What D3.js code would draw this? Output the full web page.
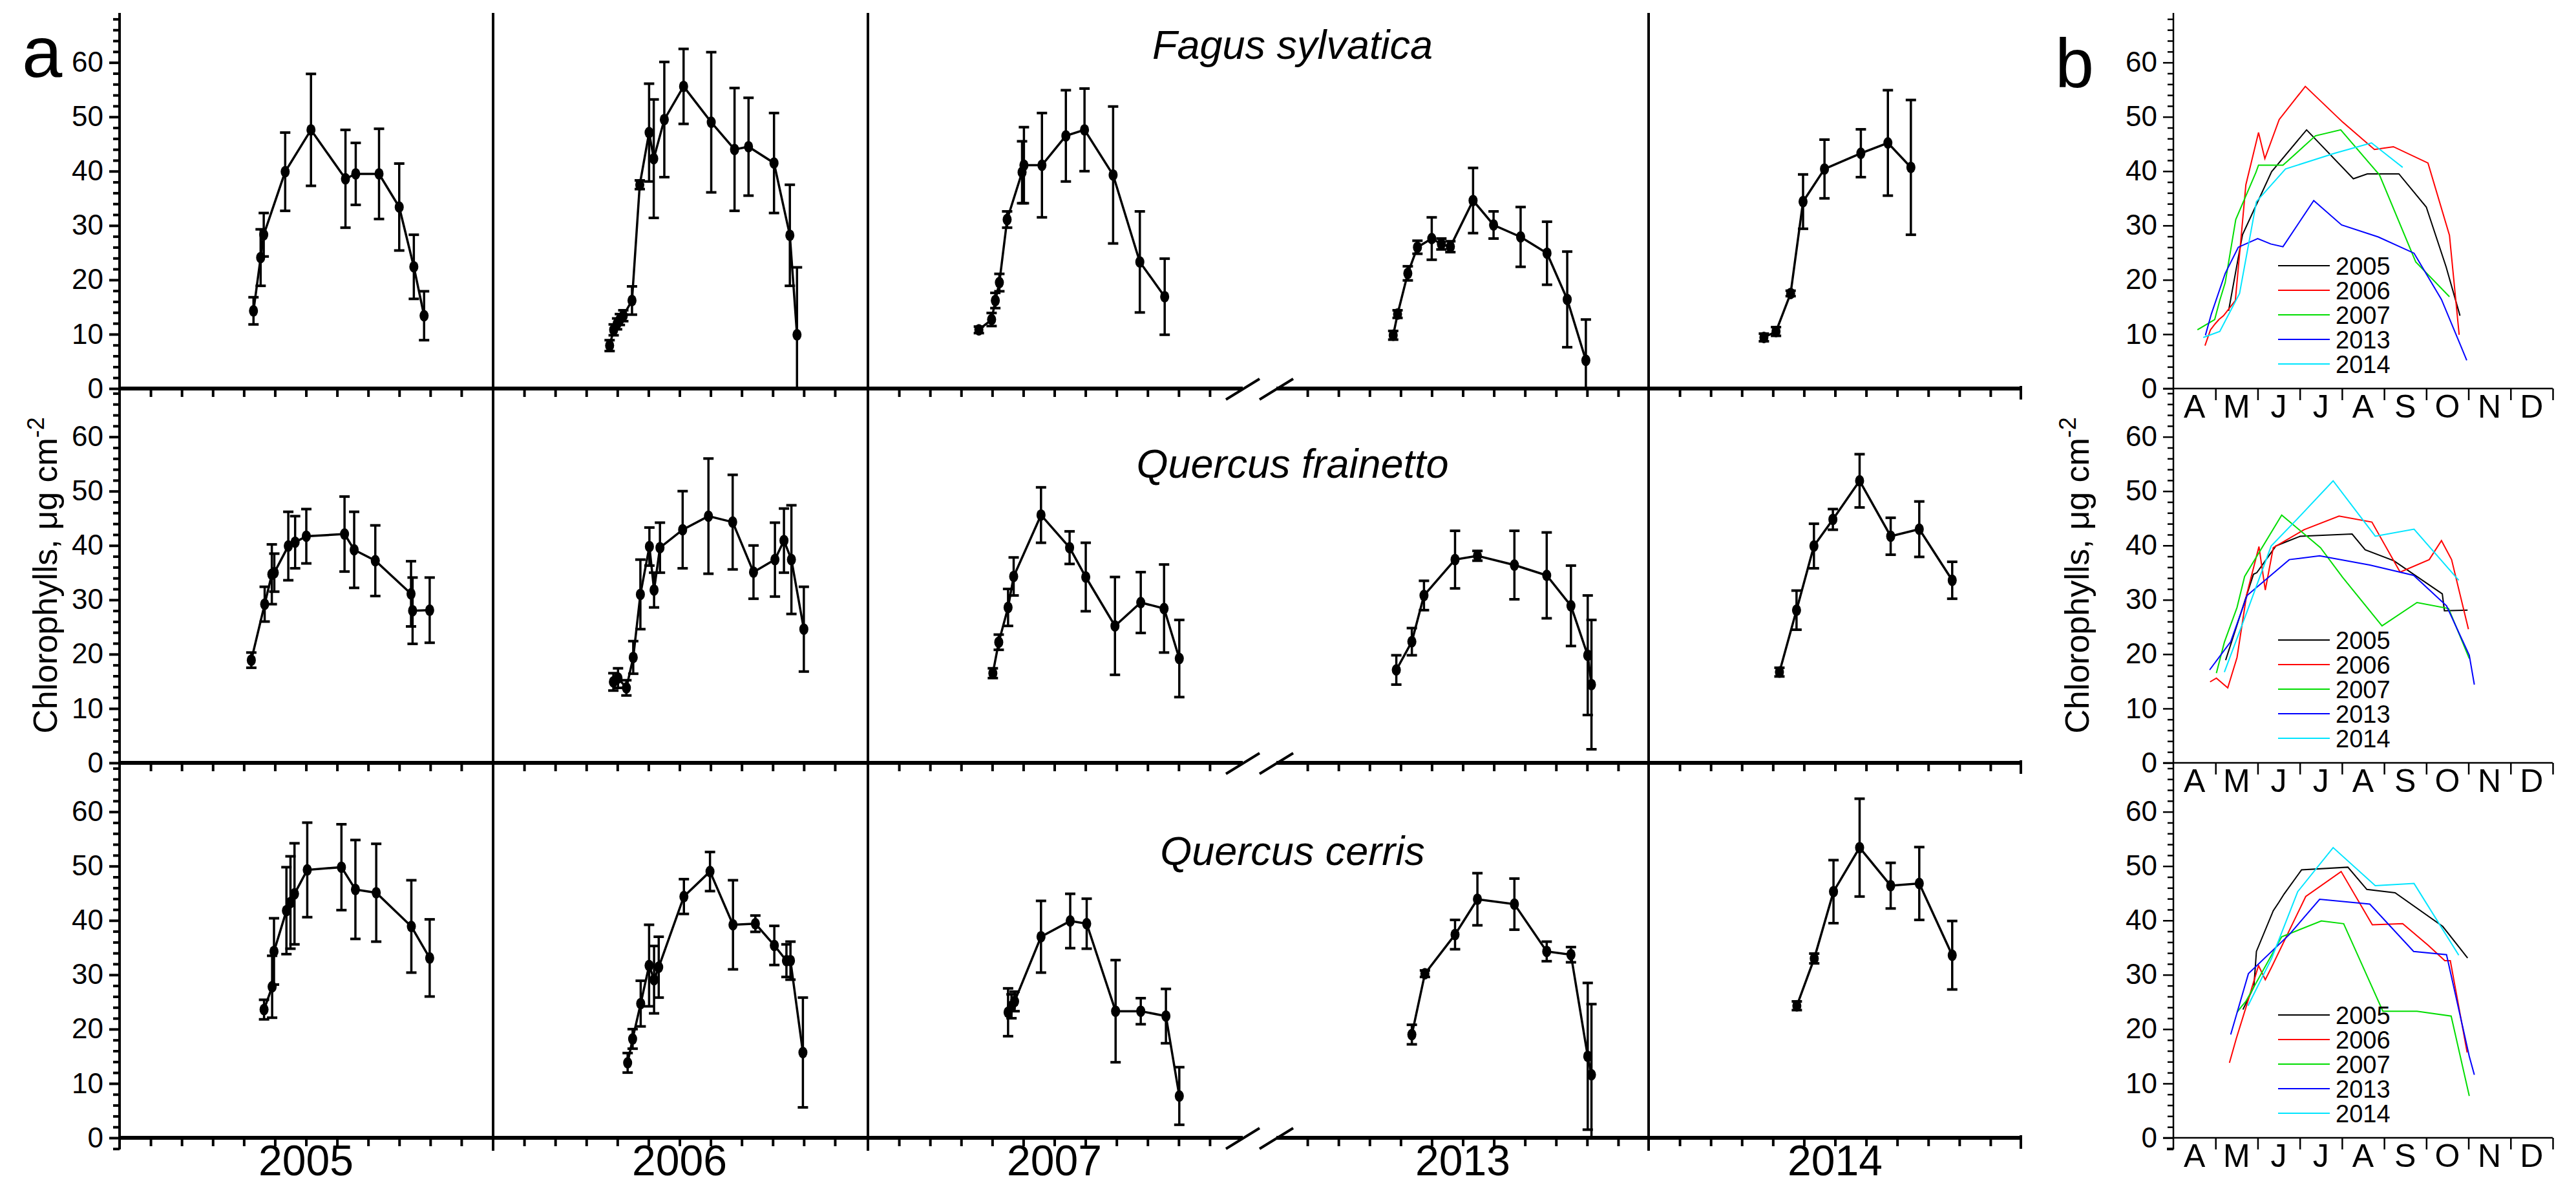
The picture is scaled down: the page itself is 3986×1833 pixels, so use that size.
<!DOCTYPE html>
<html><head><meta charset="utf-8">
<script src="https://cdn.jsdelivr.net/npm/d3@7"></script>
<style>body{margin:0;background:#fff}svg{display:block}text{font-family:"Liberation Sans",Arial,sans-serif}</style>
</head><body>
<script>
// ---- data: [month position (0 = 1 Jan, 12 = 31 Dec), mean, error] ----
const years = ["2005","2006","2007","2013","2014"];
const species = ["Fagus sylvatica","Quercus frainetto","Quercus cerris"];
const months = ["A","M","J","J","A","S","O","N","D"];
const yTicks = [0,10,20,30,40,50,60];
const colors = ["#000000","#ff0000","#00dd00","#0000ff","#00e5ff"];

const fagus2005 = [[4.31,14.3,2.5],[4.54,24.1,5.2],[4.64,28.3,4],[5.33,39.9,7.2],[6.16,47.6,10.3],[7.27,38.6,9],[7.6,39.5,5.7],[8.35,39.5,8.3],[9.0,33.4,8],[9.47,22.4,5.9],[9.8,13.4,4.5]];
const fagus2006 = [[3.75,7.9,1],[3.88,10.8,1],[3.99,11.9,1],[4.08,12.7,1],[4.19,13.4,1],[4.47,16.2,2.6],[4.72,37.5,0.8],[5.02,47.1,9],[5.17,42.3,10.9],[5.51,49.5,10.6],[6.13,55.6,6.9],[7.02,49,12.9],[7.77,44,11.3],[8.22,44.5,9],[9.04,41.5,9.2],[9.55,28.2,9.3],[9.78,9.9,12.4]];
const fagus2007 = [[3.57,10.8,0.6],[3.98,12.7,1.2],[4.1,16.2,1.4],[4.23,19.5,1.6],[4.48,31.1,1.5],[4.96,39.8,5.7],[5.02,41.1,7],[5.6,41.1,9.6],[6.37,46.5,8.4],[6.97,47.6,7.6],[7.89,39.3,12.6],[8.75,23.3,9.3],[9.55,16.9,7]];
const fagus2013 = [[3.76,9.8,0.8],[3.9,13.7,0.7],[4.23,21.2,1.3],[4.54,26,1.2],[5.0,27.6,3.9],[5.31,26.6,1],[5.6,26.1,1],[6.33,34.6,6],[6.99,30.1,2.5],[7.86,27.9,5.5],[8.71,24.9,5.8],[9.36,16.4,8.8],[9.96,5.2,7.5]];
const fagus2014 = [[3.71,9.4,0.7],[4.1,10.5,0.8],[4.57,17.5,0.5],[4.97,34.4,5],[5.66,40.4,5.4],[6.83,43.3,4.4],[7.7,45.2,9.7],[8.44,40.7,12.4]];

const frainetto2005 = [[4.24,18.9,1.4],[4.67,29.2,3.2],[4.9,34.7,5.5],[4.98,35,3.5],[5.43,39.9,6.3],[5.65,40.6,4.8],[6.01,41.7,5],[7.24,42.1,6.9],[7.55,39.2,7],[8.23,37.2,6.5],[9.38,31.1,6],[9.43,28,6.1],[9.98,28.1,6]];
const frainetto2006 = [[3.87,14.9,1.6],[4.02,15.6,1.8],[4.29,13.8,1.4],[4.51,19.4,3],[4.74,31,6.4],[5.03,39.8,3.5],[5.18,31.8,3.2],[5.37,39.6,4.6],[6.1,42.9,7.1],[6.93,45.4,10.6],[7.71,44.3,8.7],[8.38,35.1,4.9],[9.07,37.4,6.8],[9.36,40.9,5.9],[9.6,37.4,10],[10.0,24.6,7.8]];
const frainetto2007 = [[4.02,16.5,0.9],[4.21,22.2,1.4],[4.51,28.6,3.4],[4.69,34.3,3.5],[5.57,45.6,5.1],[6.49,39.6,3],[7.01,34.2,6.3],[7.95,25.2,9],[8.78,29.5,5.6],[9.53,28.4,8.1],[10.02,19.2,7.1]];
const frainetto2013 = [[3.86,17.1,2.7],[4.36,22.3,2.5],[4.75,30.8,2.7],[5.75,37.4,5.3],[6.47,38.1,0.9],[7.66,36.4,6.3],[8.7,34.5,7.9],[9.48,28.9,7.4],[10.02,19.8,11],[10.14,14.4,11.9]];
const frainetto2014 = [[4.21,16.7,0.8],[4.76,28.1,3.6],[5.32,39.9,4.1],[5.93,44.8,1.9],[6.79,51.9,4.9],[7.79,41.7,3.4],[8.71,43,5.1],[9.77,33.6,3.4]];

const cerris2005 = [[4.65,23.6,1.8],[4.91,27.8,5.7],[4.97,34.3,6.1],[5.37,41.8,8],[5.5,43.3,8.5],[5.63,44.9,9.3],[6.04,49.3,8.7],[7.14,49.8,7.9],[7.59,45.7,9.1],[8.26,45.1,9],[9.39,38.9,8.5],[9.98,33.1,7.1]];
const cerris2006 = [[4.33,13.8,1.8],[4.49,18.2,1.8],[4.75,24.7,4.2],[5.02,31.7,7.5],[5.18,29.1,6.2],[5.33,31.4,5.6],[6.14,44.4,3.2],[6.98,49,3.6],[7.72,39.2,8.2],[8.44,39.4,1.5],[9.05,35.4,3.6],[9.44,32.6,3],[9.57,32.6,3.5],[9.97,15.7,10.1]];
const cerris2007 = [[4.51,23.1,4.4],[4.62,24.2,2.2],[4.72,25.1,1.8],[5.57,37,6.6],[6.51,39.9,5],[7.04,39.4,4.6],[7.97,23.3,9.4],[8.78,23.3,2.4],[9.59,22.4,5],[10.02,7.7,5.3]];
const cerris2013 = [[4.36,19,1.8],[4.78,30.2,0.6],[5.75,37.4,2.7],[6.47,43.9,4.8],[7.66,43,4.7],[8.7,34.3,1.8],[9.48,33.7,1.4],[10.02,15,13.5],[10.14,11.6,13]];
const cerris2014 = [[4.77,24.3,0.8],[5.33,33,0.9],[5.95,45.3,5.8],[6.79,53.4,9],[7.79,46.4,4.2],[8.71,46.8,6.7],[9.77,33.6,6.3]];

const rowsData = [
  [fagus2005,fagus2006,fagus2007,fagus2013,fagus2014],
  [frainetto2005,frainetto2006,frainetto2007,frainetto2013,frainetto2014],
  [cerris2005,cerris2006,cerris2007,cerris2013,cerris2014]
];

// ---- layout ----
const W = 3986, H = 1833;
const svg = d3.select("body").append("svg").attr("width", W).attr("height", H);
const axX = 185, yearStarts = [185, 763, 1343, 1975, 2551], yearW = 577;
const zeros = [601, 1180, 1760], rowH = 580;
const bX0 = 3363, bX1 = 3950;
const FONT = '"Liberation Sans",Arial,sans-serif';

const xYear = yearStarts.map(s => d3.scaleLinear().domain([0, 12]).range([s, s + yearW]));
const yRow = zeros.map(z => d3.scaleLinear().domain([0, 69]).range([z, z - rowH]));
const xB = d3.scaleLinear().domain([3, 12]).range([bX0, bX1]);

[axX, bX0].forEach((ax, pi) => {
  svg.append("line").attr("x1", ax).attr("x2", ax).attr("y1", 20).attr("y2", 1778)
    .attr("stroke", "#000").attr("stroke-width", pi === 0 ? 4 : 2.5);
  zeros.forEach((z, r) => {
    const minor = d3.range(0, 70, 2).filter(v => v % 10 !== 0);
    svg.append("g").attr("transform", `translate(${ax},0)`)
      .call(d3.axisLeft(yRow[r]).tickValues(minor).tickSize(pi === 0 ? 10 : 9).tickFormat(""))
      .call(g => g.select(".domain").remove())
      .call(g => g.selectAll("line").attr("stroke-width", pi === 0 ? 4 : 2.5));
    svg.append("g").attr("transform", `translate(${ax},0)`)
      .call(d3.axisLeft(yRow[r]).tickValues(yTicks).tickSize(16).tickPadding(9))
      .call(g => g.select(".domain").remove())
      .call(g => g.selectAll("line").attr("stroke-width", pi === 0 ? 4 : 2.5))
      .call(g => g.selectAll("text").attr("font-size", 44).attr("font-family", FONT).attr("fill", "#000"));
  });
  svg.append("g").attr("transform", `translate(${ax},0)`)
    .call(d3.axisLeft(yRow[2]).tickValues([-2]).tickSize(10).tickFormat(""))
    .call(g => g.select(".domain").remove())
    .call(g => g.selectAll("line").attr("stroke-width", 4));
});

zeros.forEach((z, r) => {
  [[axX, 1923], [1975, 3127]].forEach(([a, b]) =>
    svg.append("line").attr("x1", a).attr("x2", b).attr("y1", z).attr("y2", z)
      .attr("stroke", "#000").attr("stroke-width", 6));
  xYear.forEach((xs, i) => {
    svg.append("g").attr("transform", `translate(0,${z})`)
      .call(d3.axisBottom(xs).tickValues(d3.range(1, 12)).tickSize(13).tickFormat(""))
      .call(g => g.select(".domain").remove())
      .call(g => g.selectAll("line").attr("stroke-width", 4));
  });
  svg.append("line").attr("x1", 3127).attr("x2", 3127).attr("y1", z - 4).attr("y2", z + 17)
    .attr("stroke", "#000").attr("stroke-width", 4);
  [1923, 1975].forEach(cx =>
    svg.append("line").attr("x1", cx - 26).attr("x2", cx + 26).attr("y1", z + 17).attr("y2", z - 15)
      .attr("stroke", "#000").attr("stroke-width", 4));
});
[763, 1343, 2551].forEach(x =>
  svg.append("line").attr("x1", x).attr("x2", x).attr("y1", 20).attr("y2", 1780)
    .attr("stroke", "#000").attr("stroke-width", 4));

years.forEach((y, i) => {
  svg.append("text").attr("x", xYear[i](6)).attr("y", 1818).attr("text-anchor", "middle")
    .attr("font-family", '"Liberation Sans Narrow","Arial Narrow",' + FONT).attr("font-size", 66).text(y);
});
const spY = [91, 739, 1338];
species.forEach((s, r) => {
  svg.append("text").attr("x", 2000).attr("y", spY[r]).attr("text-anchor", "middle")
    .attr("font-style", "italic").attr("font-size", 63).attr("font-family", FONT).text(s);
});

rowsData.forEach((row, r) => {
  const y = yRow[r];
  row.forEach((data, i) => {
    const x = xYear[i];
    const g = svg.append("g");
    data.forEach(d => {
      const lo = d[1] - d[2], hi = d[1] + d[2];
      g.append("line").attr("x1", x(d[0])).attr("x2", x(d[0]))
        .attr("y1", y(Math.max(0, lo))).attr("y2", y(hi)).attr("stroke", "#000").attr("stroke-width", 3.5);
      [lo, hi].forEach(v => {
        if (v < 0) return;
        g.append("line").attr("x1", x(d[0]) - 8).attr("x2", x(d[0]) + 8)
          .attr("y1", y(v)).attr("y2", y(v)).attr("stroke", "#000").attr("stroke-width", 4);
      });
    });
    g.append("path").datum(data)
      .attr("d", d3.line().x(d => x(d[0])).y(d => y(d[1])))
      .attr("fill", "none").attr("stroke", "#000").attr("stroke-width", 3.5);
    g.selectAll("ellipse").data(data).join("ellipse")
      .attr("cx", d => x(d[0])).attr("cy", d => y(d[1])).attr("rx", 7).attr("ry", 9).attr("fill", "#000");
  });
});

zeros.forEach((z, r) => {
  svg.append("line").attr("x1", bX0 - 16).attr("x2", bX1).attr("y1", z).attr("y2", z)
    .attr("stroke", "#000").attr("stroke-width", 2.5);
  svg.append("g").attr("transform", `translate(0,${z})`)
    .call(d3.axisBottom(xB).tickValues(d3.range(4, 13)).tickSize(18).tickFormat(""))
    .call(g => g.select(".domain").remove())
    .call(g => g.selectAll("line").attr("stroke-width", 2.5));
  months.forEach((m, k) => {
    svg.append("text").attr("x", xB(3.5 + k)).attr("y", z + 45).attr("text-anchor", "middle")
      .attr("font-size", 50).attr("font-family", FONT).text(m);
  });
  rowsData[r].forEach((data, i) => {
    svg.append("path").datum(data)
      .attr("d", d3.line().x(d => xB(d[0])).y(d => yRow[r](d[1])))
      .attr("fill", "none").attr("stroke", colors[i]).attr("stroke-width", 2);
  });
  years.forEach((yv, i) => {
    const ly = z - 190 + i * 38;
    svg.append("line").attr("x1", 3525).attr("x2", 3605).attr("y1", ly).attr("y2", ly)
      .attr("stroke", colors[i]).attr("stroke-width", 2);
    svg.append("text").attr("x", 3614).attr("y", ly + 14).attr("font-size", 38)
      .attr("font-family", FONT).text(yv);
  });
});

svg.append("text").attr("x", 34).attr("y", 119).attr("font-size", 112).attr("font-family", FONT).text("a");
svg.append("text").attr("x", 3180).attr("y", 135).attr("font-size", 108).attr("font-family", FONT).text("b");
[[88, 890], [3232, 890]].forEach(([x, y]) => {
  const t = svg.append("text").attr("transform", `translate(${x},${y}) rotate(-90)`)
    .attr("text-anchor", "middle").attr("font-size", 52).attr("font-family", FONT);
  t.append("tspan").text("Chlorophylls, μg cm");
  t.append("tspan").attr("dy", -20).attr("font-size", 36).text("-2");
});
</script>
</body></html>
